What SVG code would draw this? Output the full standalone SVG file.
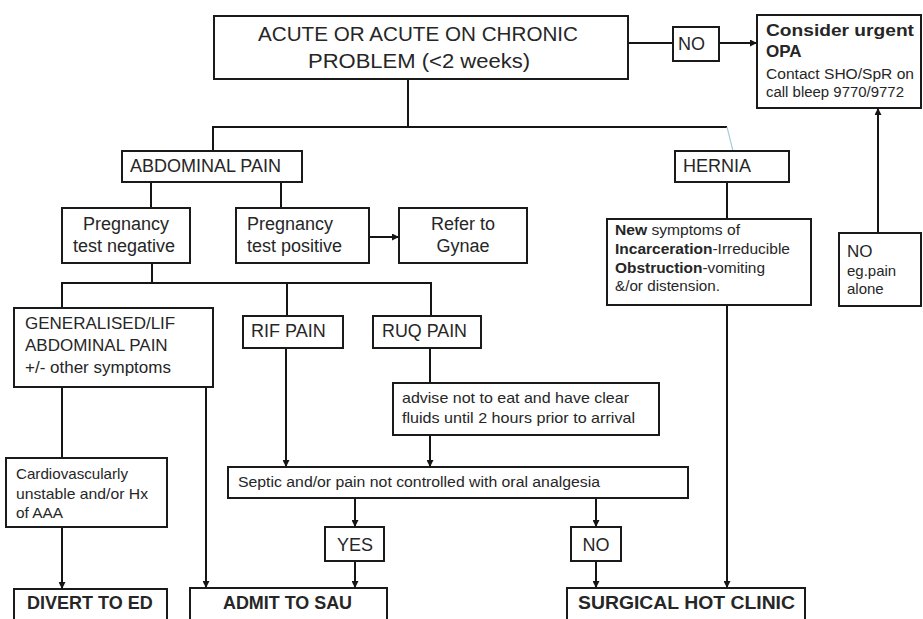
<svg xmlns="http://www.w3.org/2000/svg" width="923" height="619" viewBox="0 0 923 619">
<style>
.box{fill:#fff;stroke:#1a1a1a;stroke-width:2}
.ln{fill:none;stroke:#151515;stroke-width:2}
.arr{marker-end:url(#ah)}
text{font-family:"Liberation Sans",Arial,sans-serif;fill:#262626}
.b{font-weight:bold}
.c{text-anchor:middle}
</style>
<defs>
<marker id="ah" markerUnits="userSpaceOnUse" markerWidth="7" markerHeight="7" refX="7" refY="3.5" orient="auto">
<path d="M0,0 L7,3.5 L0,7 z" fill="#151515"/>
</marker>
</defs>
<g id="connectors">
<line class="ln" x1="628" y1="43" x2="673" y2="43"/>
<line class="ln arr" x1="719" y1="43" x2="757" y2="43"/>
<line class="ln" x1="408" y1="79" x2="408" y2="127"/>
<line class="ln" x1="212" y1="127" x2="727" y2="127"/>
<line class="ln" x1="213" y1="127" x2="213" y2="151"/>
<line x1="727" y1="127" x2="733" y2="151" stroke="#a9cbdc" stroke-width="1.2"/>
<line class="ln" x1="151" y1="182" x2="151" y2="208"/>
<line class="ln" x1="281" y1="182" x2="281" y2="208"/>
<line class="ln arr" x1="369" y1="237" x2="399" y2="237"/>
<line class="ln" x1="152" y1="263" x2="152" y2="283"/>
<line class="ln" x1="61" y1="283" x2="432" y2="283"/>
<line class="ln" x1="62" y1="283" x2="62" y2="308"/>
<line class="ln" x1="287" y1="283" x2="287" y2="316"/>
<line class="ln" x1="431" y1="283" x2="431" y2="316"/>
<line class="ln" x1="727" y1="182" x2="727" y2="219"/>
<line class="ln arr" x1="727" y1="305" x2="727" y2="588"/>
<line class="ln arr" x1="878" y1="233" x2="878" y2="108"/>
<line class="ln" x1="62" y1="387" x2="62" y2="458"/>
<line class="ln arr" x1="206" y1="387" x2="206" y2="588"/>
<line class="ln arr" x1="286" y1="348" x2="286" y2="467"/>
<line class="ln" x1="430" y1="348" x2="430" y2="383"/>
<line class="ln arr" x1="430" y1="435" x2="430" y2="467"/>
<line class="ln arr" x1="355" y1="498" x2="355" y2="527"/>
<line class="ln arr" x1="355" y1="561" x2="355" y2="588"/>
<line class="ln arr" x1="596" y1="498" x2="596" y2="527"/>
<line class="ln arr" x1="596" y1="561" x2="596" y2="588"/>
<line class="ln arr" x1="62" y1="527" x2="62" y2="589"/>
</g>
<g id="acute">
<rect class="box" x="214" y="16" width="414" height="63"/>
<text class="c" x="418" y="41" font-size="20" textLength="320" lengthAdjust="spacingAndGlyphs">ACUTE OR ACUTE ON CHRONIC</text>
<text class="c" x="419" y="68" font-size="20" textLength="222" lengthAdjust="spacingAndGlyphs">PROBLEM  (&lt;2 weeks)</text>
</g>
<g id="no-top">
<rect class="box" x="673" y="27" width="46" height="34"/>
<text x="678" y="50" font-size="18">NO</text>
</g>
<g id="consider">
<rect class="box" x="757" y="15" width="164" height="93"/>
<text class="b" x="766" y="36" font-size="17" textLength="148" lengthAdjust="spacingAndGlyphs">Consider urgent</text>
<text class="b" x="766" y="57" font-size="17">OPA</text>
<text x="766" y="79" font-size="14" textLength="148" lengthAdjust="spacingAndGlyphs">Contact SHO/SpR on</text>
<text x="766" y="97" font-size="14" textLength="138" lengthAdjust="spacingAndGlyphs">call bleep  9770/9772</text>
</g>
<g id="abdominal">
<rect class="box" x="122" y="151" width="180" height="31"/>
<text x="130" y="172" font-size="18">ABDOMINAL PAIN</text>
</g>
<g id="hernia">
<rect class="box" x="675" y="151" width="114" height="31"/>
<text x="683" y="172" font-size="18">HERNIA</text>
</g>
<g id="preg-neg">
<rect class="box" x="62" y="208" width="128" height="55"/>
<text class="c" x="126" y="230" font-size="18">Pregnancy</text>
<text class="c" x="124" y="252" font-size="18">test negative</text>
</g>
<g id="preg-pos">
<rect class="box" x="236" y="208" width="133" height="55"/>
<text x="247" y="230" font-size="18">Pregnancy</text>
<text x="247" y="252" font-size="18">test positive</text>
</g>
<g id="gynae">
<rect class="box" x="399" y="208" width="128" height="55"/>
<text class="c" x="463" y="230" font-size="18">Refer to</text>
<text class="c" x="463" y="252" font-size="18">Gynae</text>
</g>
<g id="hernia-symptoms">
<rect class="box" x="607" y="219" width="204" height="86"/>
<text x="615" y="235" font-size="14" textLength="125" lengthAdjust="spacingAndGlyphs"><tspan class="b">New</tspan> symptoms  of</text>
<text x="615" y="254" font-size="14" textLength="175" lengthAdjust="spacingAndGlyphs"><tspan class="b">Incarceration</tspan>-Irreducible</text>
<text x="615" y="273" font-size="14" textLength="150" lengthAdjust="spacingAndGlyphs"><tspan class="b">Obstruction</tspan>-vomiting</text>
<text x="615" y="291" font-size="14" textLength="105" lengthAdjust="spacingAndGlyphs">&amp;/or distension.</text>
</g>
<g id="no-pain">
<rect class="box" x="839" y="233" width="82" height="73"/>
<text x="847" y="257" font-size="17">NO</text>
<text x="847" y="276" font-size="15">eg.pain</text>
<text x="847" y="294" font-size="15">alone</text>
</g>
<g id="generalised">
<rect class="box" x="14" y="308" width="199" height="79"/>
<text x="25" y="329" font-size="17">GENERALISED/LIF</text>
<text x="25" y="351" font-size="17">ABDOMINAL PAIN</text>
<text x="25" y="373" font-size="17">+/- other symptoms</text>
</g>
<g id="rif">
<rect class="box" x="243" y="316" width="100" height="32"/>
<text x="251" y="337" font-size="18">RIF PAIN</text>
</g>
<g id="ruq">
<rect class="box" x="373" y="316" width="108" height="32"/>
<text x="382" y="337" font-size="18" textLength="85" lengthAdjust="spacingAndGlyphs">RUQ PAIN</text>
</g>
<g id="advise">
<rect class="box" x="393" y="383" width="266" height="52"/>
<text x="402" y="403" font-size="15" textLength="227" lengthAdjust="spacingAndGlyphs">advise  not  to  eat and have  clear</text>
<text x="402" y="423" font-size="15" textLength="233" lengthAdjust="spacingAndGlyphs">fluids  until  2 hours  prior to  arrival</text>
</g>
<g id="cardio">
<rect class="box" x="6" y="458" width="161" height="69"/>
<text x="16" y="479" font-size="15" textLength="112" lengthAdjust="spacingAndGlyphs">Cardiovascularly</text>
<text x="16" y="499" font-size="15" textLength="132" lengthAdjust="spacingAndGlyphs">unstable  and/or  Hx</text>
<text x="16" y="518" font-size="15" textLength="47" lengthAdjust="spacingAndGlyphs">of AAA</text>
</g>
<g id="septic">
<rect class="box" x="228" y="467" width="460" height="31"/>
<text x="238" y="487" font-size="14" textLength="362" lengthAdjust="spacingAndGlyphs">Septic and/or  pain  not controlled  with oral analgesia</text>
</g>
<g id="yes">
<rect class="box" x="325" y="527" width="59" height="34"/>
<text class="c" x="355" y="551" font-size="18">YES</text>
</g>
<g id="no-bottom">
<rect class="box" x="571" y="527" width="50" height="34"/>
<text class="c" x="596" y="551" font-size="18">NO</text>
</g>
<g id="divert">
<rect class="box" x="14" y="589" width="153" height="40"/>
<text class="b" x="27" y="609" font-size="18">DIVERT TO ED</text>
</g>
<g id="admit">
<rect class="box" x="190" y="588" width="197" height="40"/>
<text class="b" x="223" y="609" font-size="18" textLength="129" lengthAdjust="spacingAndGlyphs">ADMIT  TO  SAU</text>
</g>
<g id="surgical">
<rect class="box" x="567" y="588" width="238" height="40"/>
<text class="b" x="578" y="609" font-size="18" textLength="217" lengthAdjust="spacingAndGlyphs">SURGICAL  HOT CLINIC</text>
</g>
</svg>
